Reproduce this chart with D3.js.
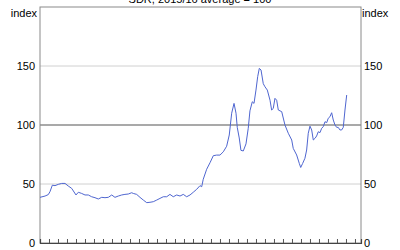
<!DOCTYPE html>
<html>
<head>
<meta charset="utf-8">
<script src="https://cdn.jsdelivr.net/npm/d3@7"></script>
<style>
  body { margin: 0; background: #fff; }
  svg { display: block; font-family: "Liberation Sans", Arial, sans-serif; }
</style>
</head>
<body>
<div id="chart"></div>
<script>
// values (decimal years, index level)
const years = [1986.00, 1986.56, 1986.92, 1987.11, 1987.37, 1987.67, 1988.03, 1988.41, 1988.78, 1989.14,
  1989.52, 1990.00, 1990.26, 1990.63, 1991.00, 1991.37, 1991.74, 1992.11, 1992.48, 1992.86,
  1993.22, 1993.59, 1993.97, 1994.33, 1994.70, 1995.08, 1995.44, 1995.81, 1996.19, 1996.37,
  1996.74, 1997.11, 1997.48, 1997.86, 1998.22, 1998.59, 1998.97, 1999.33, 1999.70, 2000.08,
  2000.44, 2000.81, 2001.19, 2001.56, 2001.92, 2002.30, 2002.67, 2003.03, 2003.41, 2003.78,
  2003.97, 2004.14, 2004.52, 2004.89, 2005.26, 2005.63, 2006.00, 2006.37, 2006.74, 2007.03,
  2007.30, 2007.56, 2007.78, 2007.92, 2008.14, 2008.33, 2008.59, 2008.89, 2009.14, 2009.33,
  2009.59, 2009.78, 2010.00, 2010.19, 2010.37, 2010.56, 2010.81, 2011.00, 2011.26, 2011.56,
  2011.74, 2011.92, 2012.11, 2012.30, 2012.48, 2012.86, 2013.22, 2013.59, 2013.97, 2014.14,
  2014.52, 2014.81, 2014.97, 2015.19, 2015.44, 2015.63, 2015.81, 2016.00, 2016.19, 2016.37,
  2016.56, 2016.74, 2016.92, 2017.11, 2017.30, 2017.48, 2017.67, 2017.86, 2018.03, 2018.22,
  2018.41, 2018.59, 2018.78, 2018.97, 2019.14, 2019.33, 2019.52, 2019.70, 2019.89, 2020.08];
const indexValues = [38.7, 39.8, 41, 43.5, 49, 48.6, 49.7, 50.5, 50.5, 48.3,
  46.3, 40.7, 43, 42, 40.7, 40.7, 39.2, 38.4, 37.3, 38.7,
  38.4, 38.7, 40.7, 38.7, 39.8, 40.7, 41.2, 41.5, 42.6, 42,
  41.2, 38.7, 36.4, 34.2, 34.5, 35, 36.4, 37.8, 39.2, 39.2,
  41.2, 39.2, 40.7, 39.8, 41.2, 39.2, 40.7, 43, 45.5, 48.6,
  47.7, 54, 62.5, 68, 74, 74.5, 74.5, 77.3, 82, 91.5,
  110, 118.3, 110, 98, 89, 78.5, 78, 84, 97.2, 112,
  119.7, 118.3, 129.6, 141, 148, 146.6, 135, 132.4, 129.6, 121,
  112.7, 114, 122.6, 121, 112.7, 111.3, 100, 93, 87.3, 80.2,
  74.6, 67.5, 64, 67.5, 71.8, 78.8, 93, 99, 95.8, 87.3,
  88.7, 90.7, 94.3, 93.5, 97.2, 98.6, 102.8, 102, 105.7, 107,
  110.4, 104.2, 100, 98, 98, 95.8, 95.8, 98, 112.7, 125.4];
const yTicks = [0, 50, 100, 150];
const xTicks = d3.range(1987, 2022);
const unitLabel = 'index';
const titleText = 'SDR, 2015/16 average = 100';

const width = 400, height = 250;
const margin = { top: 7, right: 39, bottom: 7, left: 40 };

const svg = d3.select('#chart').append('svg')
  .attr('width', width).attr('height', height);

const x = d3.scaleLinear()
  .domain([1986, 2021.67])
  .range([margin.left, width - margin.right]);

const y = d3.scaleLinear()
  .domain([0, 200])
  .range([height - margin.bottom, margin.top]);

// clipped title above the frame
svg.append('text')
  .attr('x', 200).attr('y', 2.5)
  .attr('text-anchor', 'middle')
  .attr('font-size', 11)
  .attr('fill', '#000')
  .text(titleText);

// gridlines
svg.append('g')
  .selectAll('line')
  .data([50, 150])
  .join('line')
  .attr('x1', x.range()[0]).attr('x2', x.range()[1])
  .attr('y1', d => y(d)).attr('y2', d => y(d))
  .attr('stroke', '#d0d0d0').attr('stroke-width', 1);

svg.append('line')
  .attr('x1', x.range()[0]).attr('x2', x.range()[1])
  .attr('y1', y(100)).attr('y2', y(100))
  .attr('stroke', '#8c8c8c').attr('stroke-width', 1.5);

// frame
svg.append('rect')
  .attr('x', x.range()[0]).attr('y', y(200))
  .attr('width', x.range()[1] - x.range()[0])
  .attr('height', y(0) - y(200))
  .attr('fill', 'none')
  .attr('stroke', '#8a8a8a').attr('stroke-width', 1);

// line
const line = d3.line()
  .x((d, i) => x(years[i]))
  .y(d => y(d));

svg.append('path')
  .datum(indexValues)
  .attr('fill', 'none')
  .attr('stroke', '#4f66d0')
  .attr('stroke-width', 1)
  .attr('stroke-linejoin', 'round')
  .attr('d', line);

// bottom axis with short inward ticks
svg.append('g')
  .attr('transform', `translate(0,${y(0)})`)
  .call(d3.axisBottom(x).tickValues(xTicks).tickSize(-4).tickFormat(''))
  .call(g => g.select('.domain').attr('stroke', '#444').attr('stroke-width', 1.2))
  .call(g => g.selectAll('.tick line').attr('stroke', '#555'));

// y labels both sides
const yAxisL = d3.axisLeft(y).tickValues(yTicks).tickSize(0).tickPadding(5);
const yAxisR = d3.axisRight(y).tickValues(yTicks).tickSize(0).tickPadding(3);

svg.append('g')
  .attr('transform', `translate(${x.range()[0]},0)`)
  .call(yAxisL)
  .call(g => g.select('.domain').remove())
  .call(g => g.selectAll('text').attr('font-size', 11).attr('font-family', null).attr('fill', '#000'));

svg.append('g')
  .attr('transform', `translate(${x.range()[1]},0)`)
  .call(yAxisR)
  .call(g => g.select('.domain').remove())
  .call(g => g.selectAll('text').attr('font-size', 11).attr('font-family', null).attr('fill', '#000'));

// unit labels
svg.append('text')
  .attr('x', x.range()[0] - 3).attr('y', 17)
  .attr('text-anchor', 'end')
  .attr('font-size', 11)
  .text(unitLabel);

svg.append('text')
  .attr('x', x.range()[1] + 1).attr('y', 17)
  .attr('text-anchor', 'start')
  .attr('font-size', 11)
  .text(unitLabel);
</script>
</body>
</html>
